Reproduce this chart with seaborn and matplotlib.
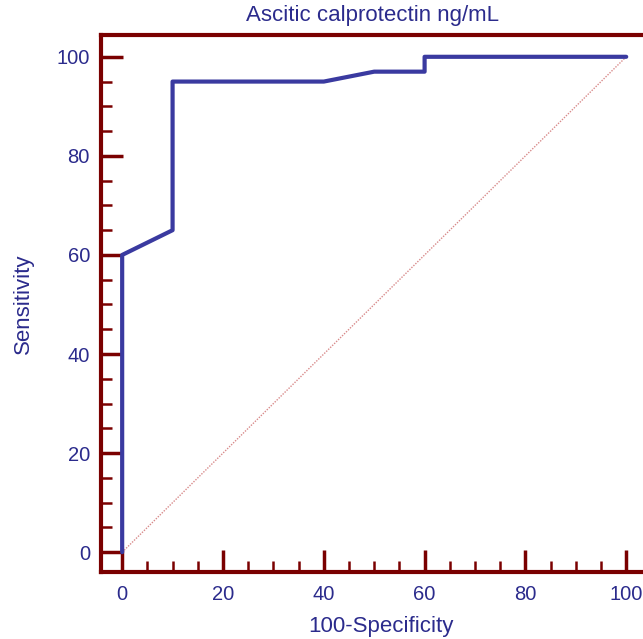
import numpy as np
import pandas as pd
import matplotlib
matplotlib.use("Agg")
import matplotlib.pyplot as plt
import seaborn as sns
from matplotlib.ticker import MultipleLocator

# ROC curve points
fpr = [0, 0, 10, 10, 40, 50, 60, 60, 100]        # 100-Specificity
tpr = [0, 60, 65, 95, 95, 97, 97, 100, 100]      # Sensitivity
diag_x = [0, 100]
diag_y = [0, 100]

title = "Ascitic calprotectin ng/mL"
x_label = "100-Specificity"
y_label = "Sensitivity"

spine_col = "#7a0000"
text_col = "#2b2b8c"
curve_col = "#3a3aa0"

sns.set_theme(style="white")
plt.rcParams["font.family"] = ["Liberation Sans", "DejaVu Sans"]

fig = plt.figure(figsize=(6.43, 6.39), dpi=100)
# axes runs past the right edge of the figure, like the cropped original
ax = fig.add_axes([101 / 643, 1 - 572 / 639, 560 / 643, (572 - 35) / 639])

roc = pd.DataFrame({"fpr": fpr, "tpr": tpr})
diag = pd.DataFrame({"x": diag_x, "y": diag_y})

# chance line, thin dotted
sns.lineplot(data=diag, x="x", y="y", ax=ax, color="#d88a8a",
             linewidth=1.0, linestyle=(0, (1, 1)), sort=False, estimator=None)
# ROC step curve (no aggregation of repeated x values)
sns.lineplot(data=roc, x="fpr", y="tpr", ax=ax, color=curve_col,
             linewidth=3, sort=False, estimator=None)

ax.set_xlim(-4.2, 106.9)
ax.set_ylim(-4.0, 104.4)

ax.xaxis.set_major_locator(MultipleLocator(20))
ax.xaxis.set_minor_locator(MultipleLocator(5))
ax.yaxis.set_major_locator(MultipleLocator(20))
ax.yaxis.set_minor_locator(MultipleLocator(5))

ax.tick_params(which="major", direction="in", length=16, width=2.5,
               color=spine_col, labelcolor=text_col, labelsize=14.5,
               bottom=True, left=True)
ax.tick_params(which="minor", direction="in", length=8, width=1.8,
               color=spine_col, bottom=True, left=True)
ax.tick_params(axis="x", which="major", pad=9)
ax.tick_params(axis="y", which="major", pad=8)

for side in ["left", "bottom", "top"]:
    ax.spines[side].set_color(spine_col)
    ax.spines[side].set_linewidth(3)
    ax.spines[side].set_visible(True)
ax.spines["right"].set_visible(False)

ax.set_xlabel(x_label, color=text_col, fontsize=16, labelpad=9)
ax.set_ylabel(y_label, color=text_col, fontsize=16, labelpad=16)
fig.text(373 / 643, 1 - 16 / 639, title, color=text_col, fontsize=16,
         ha="center", va="center")

fig.savefig("out.png", dpi=100)
